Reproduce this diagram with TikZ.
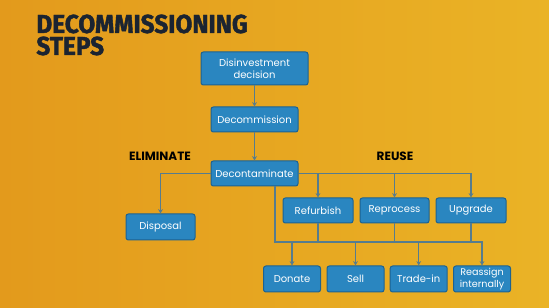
\documentclass[tikz,border=0pt]{standalone}
\usepackage{fontspec}
\setmainfont{Poppins}
\newfontfamily\titlefont{Fira Sans}[FakeStretch=0.94,FakeBold=1.5]
\newfontfamily\headfont{Poppins}
\usetikzlibrary{arrows.meta}
\definecolor{bgL}{HTML}{E39A1C}
\definecolor{bgR}{HTML}{EAB326}
\definecolor{boxfill}{HTML}{2A86C0}
\definecolor{boxdraw}{HTML}{1D6291}
\definecolor{linec}{HTML}{567C8E}
\definecolor{titlec}{HTML}{1B2431}
\tikzset{
  stepbox/.style={draw=boxdraw,line width=0.5pt,fill=boxfill,rounded corners=1.2pt,
    text=white,font=\fontsize{5}{5.8}\selectfont,align=center,inner sep=0pt,
    minimum height=12.5pt},
  conn/.style={draw=linec,line width=0.7pt},
  arr/.style={conn,-{Stealth[length=2.2pt,width=2.4pt]}},
  heading/.style={font=\headfont\bfseries\fontsize{6}{7}\selectfont,text=black,inner sep=0pt},
  titletext/.style={anchor=base west,inner sep=0pt,text=titlec,align=left,
    font=\titlefont\bfseries\fontsize{13}{11}\selectfont},
}
\begin{document}
\begin{tikzpicture}[x=0.5pt,y=-0.5pt]
\shade[left color=bgL,right color=bgR] (0,0) rectangle (549,308);
\useasboundingbox (0,0) rectangle (549,308);
% title (base anchor = baseline of last line)
\node[titletext] (title) at (36,55) {DECOMMISSIONING\\STEPS};
% headings
\node[heading] (elim) at (160,156) {ELIMINATE};
\node[heading] (reuse) at (395,156) {REUSE};
% boxes
\node[stepbox,minimum width=53.5pt,minimum height=16.5pt] (dis) at (254.5,68.5) {Disinvestment\\decision};
\node[stepbox,minimum width=43.5pt] (dcm) at (254.5,119.5) {Decommission};
\node[stepbox,minimum width=43.5pt] (dct) at (254.5,173.5) {Decontaminate};
\node[stepbox,minimum width=34.5pt,minimum height=13pt] (dsp) at (160.5,227) {Disposal};
\node[stepbox,minimum width=35pt] (ref) at (318,210.5) {Refurbish};
\node[stepbox,minimum width=34.5pt] (rep) at (394.5,210.5) {Reprocess};
\node[stepbox,minimum width=35pt] (upg) at (471,210.5) {Upgrade};
\node[stepbox,minimum width=28.5pt,minimum height=13pt] (don) at (292,279) {Donate};
\node[stepbox,minimum width=28.5pt,minimum height=13pt] (sel) at (355.5,279) {Sell};
\node[stepbox,minimum width=28.5pt,minimum height=13pt] (trd) at (418.7,279) {Trade-in};
\node[stepbox,minimum width=28.5pt,minimum height=13pt,font=\fontsize{4.8}{4.9}\selectfont] (rea) at (482,279) {Reassign\\internally};
% connectors
\draw[arr] (dis) -- (dcm);
\draw[arr] (dcm) -- (dct);
\draw[arr] (dct.west) -| (dsp.north);
\draw[arr] (dct.east) -| (upg.north);
\draw[arr] (ref.north |- dct.east) -- (ref.north);
\draw[arr] (rep.north |- dct.east) -- (rep.north);
\coordinate (b0) at (275,242);
\draw[arr] (dct.south -| b0) |- (rea.north |- b0) -- (rea.north);
\draw[conn] (ref.south) -- (ref.south |- b0);
\draw[conn] (rep.south) -- (rep.south |- b0);
\draw[conn] (upg.south) -- (upg.south |- b0);
\draw[arr] (don.north |- b0) -- (don.north);
\draw[arr] (sel.north |- b0) -- (sel.north);
\draw[arr] (trd.north |- b0) -- (trd.north);
\end{tikzpicture}
\end{document}
